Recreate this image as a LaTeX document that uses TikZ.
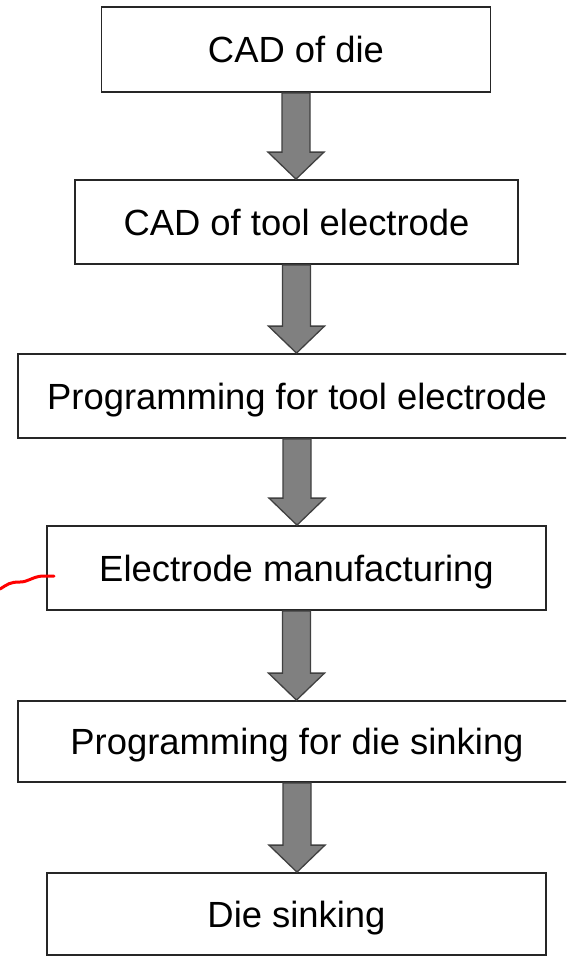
\documentclass[tikz,border=0pt]{standalone}
\usepackage{fontspec}
\setmainfont{Liberation Sans}
\usetikzlibrary{calc}
\tikzset{
  stepbox/.style={draw=black!85, line width=1.8pt, fill=white, inner sep=0pt,
    text height=26pt, text depth=0pt,
    font=\fontsize{36.4}{40}\selectfont},
  barrow/.style={draw=black!75, line width=1.3pt, fill=black!50, line join=miter},
  redmark/.style={draw=red, line width=3pt, line cap=round}
}
\newcommand\blkarrow[2]{%
  \path[barrow] let \p1=(#1.south), \p2=(#2.north) in
    (\x1-14pt,\y1) -- (\x1+14pt,\y1) -- (\x1+14pt,\y2+27pt) -- (\x1+28pt,\y2+27pt)
    -- (\x1,\y2) -- (\x1-28pt,\y2+27pt) -- (\x1-14pt,\y2+27pt) -- cycle;}
\begin{document}
\begin{tikzpicture}[x=1pt,y=-1pt]
\clip (0,0) rectangle (566,956);
\fill[white] (0,0) rectangle (566,956);
\node[stepbox, minimum width=389pt, minimum height=85pt] (b1) at (296,49.5) {CAD of die};
\node[stepbox, minimum width=443pt, minimum height=84pt] (b2) at (296.5,222) {CAD of tool electrode};
\node[stepbox, minimum width=558pt, minimum height=84pt] (b3) at (297,396) {Programming for tool electrode};
\node[stepbox, minimum width=499pt, minimum height=84pt] (b4) at (296.5,568) {Electrode manufacturing};
\node[stepbox, minimum width=558pt, minimum height=81pt] (b5) at (297,741.5) {Programming for die sinking};
\node[stepbox, minimum width=499pt, minimum height=82pt] (b6) at (296.5,914) {Die sinking};
\blkarrow{b1}{b2}
\blkarrow{b2}{b3}
\blkarrow{b3}{b4}
\blkarrow{b4}{b5}
\blkarrow{b5}{b6}
\coordinate (r0) at (0,589);
\coordinate (r1) at (54,576);
\draw[redmark] (r0) .. controls (8,584) and (10,582) .. (20,582)
  .. controls (28,582) and (32,577) .. (42,576) -- (r1);
\end{tikzpicture}
\end{document}
